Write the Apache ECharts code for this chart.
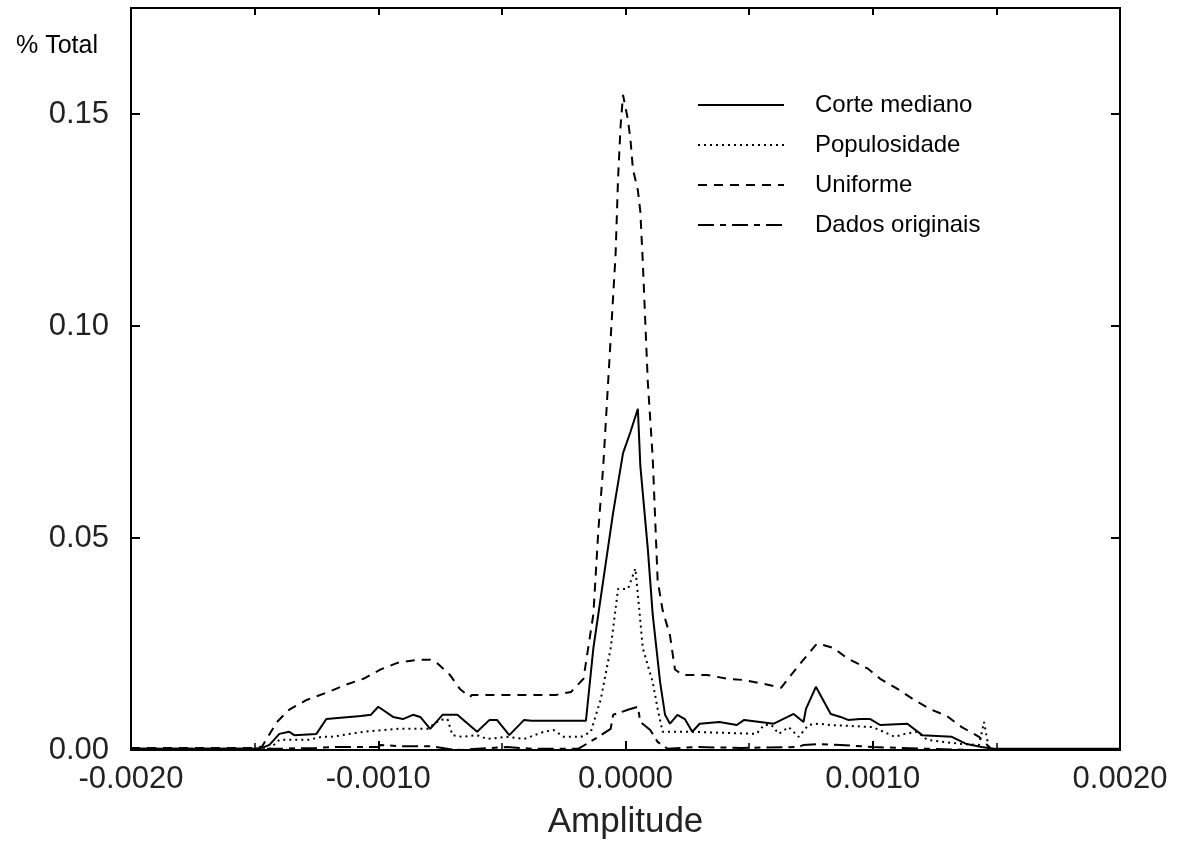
<!DOCTYPE html>
<html lang="pt">
<head>
	<meta charset="UTF-8">
	<title>Amplitude</title>
	<script src="https://cdn.jsdelivr.net/npm/echarts@6/dist/echarts.min.js"></script>
	<style>
		html, body {margin: 0; padding: 0; background: #fff;}
		#box {width: 1189px; height: 842px;}
	</style>
</head>
<body>
<div id="box"></div>
<script>
	// eixo x: amplitude, eixo y: % total
	let xTicks=[-0.002,-0.001,0,0.001,0.002];
	let yTicks=[0,0.05,0.10,0.15];

	let corteX=[-0.002,-0.0015,-0.00147,-0.00144,-0.0014,-0.00136,-0.00134,-0.00125,-0.00121,-0.00107,-0.00103,-0.001,-0.00094,-0.0009,-0.00086,-0.00083,-0.00079,-0.00074,-0.00068,-0.0006,-0.00055,-0.00052,-0.00047,-0.00041,-0.00038,-0.00016,-0.00013,-0.00009,-0.00005,-0.00001,0.00002,0.00005,0.00006,0.00009,0.00011,0.00014,0.00016,0.00018,0.00021,0.00024,0.00027,0.0003,0.00038,0.00045,0.00048,0.0006,0.00068,0.00072,0.00073,0.00077,0.00083,0.00087,0.0009,0.00095,0.00099,0.00103,0.00114,0.0012,0.00132,0.00138,0.00144,0.00149,0.002];
	let corteY=[0.0003,0.0003,0.0005,0.0012,0.0038,0.0043,0.0035,0.0038,0.0073,0.008,0.0083,0.0102,0.0078,0.0073,0.0083,0.0078,0.005,0.0083,0.0083,0.0043,0.0071,0.0071,0.0035,0.0071,0.0069,0.0069,0.024,0.04,0.056,0.07,0.075,0.0805,0.067,0.0476,0.032,0.016,0.0083,0.0062,0.0083,0.0073,0.0043,0.0062,0.0066,0.0059,0.0071,0.0062,0.0085,0.0066,0.0097,0.0149,0.0085,0.0078,0.0071,0.0073,0.0073,0.0059,0.0062,0.0035,0.0031,0.0014,0.0007,0.0003,0.0003];

	let populX=[-0.002,-0.00144,-0.0014,-0.00128,-0.00123,-0.00119,-0.00106,-0.00092,-0.0008,-0.00078,-0.00075,-0.00072,-0.0007,-0.00066,-0.0006,-0.00056,-0.00048,-0.00041,-0.00033,-0.00029,-0.00025,-0.00018,-0.00014,-0.0001,-0.00006,-0.00003,0.00001,0.00004,0.00005,0.00007,0.00011,0.00013,0.00015,0.00026,0.00053,0.00056,0.00059,0.00062,0.00066,0.0007,0.00074,0.00078,0.00083,0.001,0.00109,0.00113,0.00118,0.00122,0.00136,0.00143,0.00145,0.00147,0.002];
	let populY=[0.0002,0.0002,0.0024,0.0024,0.0031,0.0031,0.0043,0.005,0.005,0.0059,0.0071,0.0073,0.0035,0.0031,0.0035,0.0026,0.0031,0.0026,0.0043,0.0047,0.0031,0.0031,0.0043,0.012,0.024,0.038,0.038,0.0428,0.0367,0.024,0.016,0.0097,0.0043,0.0043,0.0038,0.0059,0.0059,0.0038,0.0054,0.0031,0.0059,0.0062,0.0059,0.0054,0.0031,0.0038,0.0043,0.0024,0.0014,0.0012,0.0066,0.0002,0.0002];

	let unifX=[-0.002,-0.0015,-0.00147,-0.00141,-0.00136,-0.00129,-0.00121,-0.00113,-0.00106,-0.00099,-0.00092,-0.00084,-0.00079,-0.00076,-0.00071,-0.00067,-0.00063,-0.00062,-0.00028,-0.00022,-0.00017,-0.00013,-0.00011,-0.00009,-0.00007,-0.00004,-0.00003,-0.00002,-0.00001,0.00001,0.00002,0.00003,0.00005,0.00006,0.00007,0.00009,0.00011,0.00013,0.00015,0.00018,0.0002,0.00023,0.00033,0.00041,0.00048,0.00056,0.00063,0.00067,0.00072,0.00077,0.00078,0.00084,0.0009,0.00098,0.00103,0.0011,0.00116,0.00123,0.0013,0.00136,0.00143,0.00148,0.002];
	let unifY=[0.0005,0.0005,0.0008,0.0066,0.0095,0.0118,0.0135,0.0154,0.0168,0.019,0.0206,0.0213,0.0213,0.0204,0.0177,0.0144,0.0125,0.013,0.013,0.0137,0.0168,0.032,0.0516,0.067,0.087,0.117,0.135,0.147,0.1545,0.1486,0.144,0.137,0.132,0.127,0.115,0.087,0.069,0.04,0.033,0.027,0.019,0.0177,0.0177,0.0168,0.0165,0.0156,0.0147,0.0177,0.0213,0.0248,0.0251,0.0241,0.0215,0.0192,0.0168,0.0144,0.0121,0.0097,0.008,0.0054,0.0031,0.0002,0.0002];

	let origX=[-0.002,-0.0014,-0.00125,-0.00119,-0.001,-0.00099,-0.00092,-0.00079,-0.00071,-0.00066,-0.0006,-0.00048,-0.00038,-0.00019,-0.00011,-0.00006,-0.00005,0.00001,0.00005,0.00006,0.0001,0.00013,0.00017,0.00028,0.00047,0.0007,0.00072,0.00078,0.00087,0.001,0.00121,0.00141,0.002];
	let origY=[0.0003,0.0003,0.0005,0.0007,0.0007,0.0012,0.0009,0.0009,0.0002,0,0.0003,0.0007,0.0003,0.0003,0.0031,0.005,0.0083,0.0095,0.0102,0.0066,0.0047,0.0019,0.0003,0.0007,0.0005,0.0007,0.0012,0.0014,0.0012,0.0007,0.0003,0,0];

	let names=['Corte mediano','Populosidade','Uniforme','Dados originais'];

	function pares(xs,ys) {
		return xs.map((x,i)=>[x,ys[i]]);
	}

	let fonte='Liberation Sans, Arial, sans-serif';
	let labelFont={fontFamily:fonte,fontSize:31,color:'#222'};

	let options={
		animation:false,
		backgroundColor:'#fff',
		textStyle:{fontFamily:fonte},
		grid:{left:131,right:69,top:8,bottom:92,show:true,borderColor:'#000',borderWidth:2,containLabel:false,outerBoundsMode:'none'},
		legend:{
			orient:'vertical',
			left:692,
			top:88,
			itemWidth:86,
			itemHeight:24,
			itemGap:16,
			data:names,
			itemStyle:{color:'transparent',borderWidth:0,opacity:0},
			textStyle:{fontSize:24,color:'#000',padding:[0,0,0,26]}
		},
		graphic:[
			{type:'text',right:1189-98,top:34,style:{text:'% Total',font:'25px Liberation Sans, Arial, sans-serif',fill:'#000'}}
		],
		xAxis:[
			{
				type:'value',
				min:xTicks[0],
				max:xTicks[xTicks.length-1],
				interval:0.001,
				name:'Amplitude',
				nameLocation:'middle',
				nameGap:55,
				nameTextStyle:{fontSize:35,color:'#222'},
				axisLine:{show:true,onZero:false,lineStyle:{color:'#000',width:2}},
				axisTick:{show:true,inside:true,length:9,lineStyle:{color:'#000',width:2}},
				minorTick:{show:true,splitNumber:2,length:7,lineStyle:{color:'#000',width:1.5}},
				splitLine:{show:false},
				axisLabel:Object.assign({margin:14,formatter:v=>v.toFixed(4)},labelFont)
			},
			{
				type:'value',
				position:'top',
				min:xTicks[0],
				max:xTicks[xTicks.length-1],
				interval:0.0005,
				axisLine:{show:false,onZero:false},
				axisTick:{show:true,inside:true,length:7,lineStyle:{color:'#000',width:2}},
				axisLabel:{show:false},
				splitLine:{show:false}
			}
		],
		yAxis:[
			{
				type:'value',
				min:0,
				max:0.175,
				interval:0.05,
				axisLine:{show:true,onZero:false,lineStyle:{color:'#000',width:2}},
				axisTick:{show:true,inside:true,length:9,lineStyle:{color:'#000',width:2}},
				splitLine:{show:false},
				axisLabel:Object.assign({margin:22,showMaxLabel:false,formatter:v=>yTicks.some(t=>Math.abs(t-v)<1e-9)?v.toFixed(2):''},labelFont)
			},
			{
				type:'value',
				position:'right',
				min:0,
				max:0.175,
				interval:0.05,
				axisLine:{show:false,onZero:false},
				axisTick:{show:true,inside:true,length:9,lineStyle:{color:'#000',width:2}},
				axisLabel:{show:false},
				splitLine:{show:false}
			}
		],
		series:[
			{name:names[0],type:'line',symbol:'none',data:pares(corteX,corteY),lineStyle:{color:'#000',width:2,type:'solid'},itemStyle:{color:'#000'}},
			{name:names[1],type:'line',symbol:'none',data:pares(populX,populY),lineStyle:{color:'#000',width:2,type:[2,4]},itemStyle:{color:'#000'}},
			{name:names[2],type:'line',symbol:'none',data:pares(unifX,unifY),lineStyle:{color:'#000',width:2,type:[9,7]},itemStyle:{color:'#000'}},
			{name:names[3],type:'line',symbol:'none',data:pares(origX,origY),lineStyle:{color:'#000',width:2,type:[16,6,6,6]},itemStyle:{color:'#000'}}
		]
	};

	let charts=echarts.init(document.getElementById('box'));
	charts.setOption(options);
</script>
</body>
</html>
